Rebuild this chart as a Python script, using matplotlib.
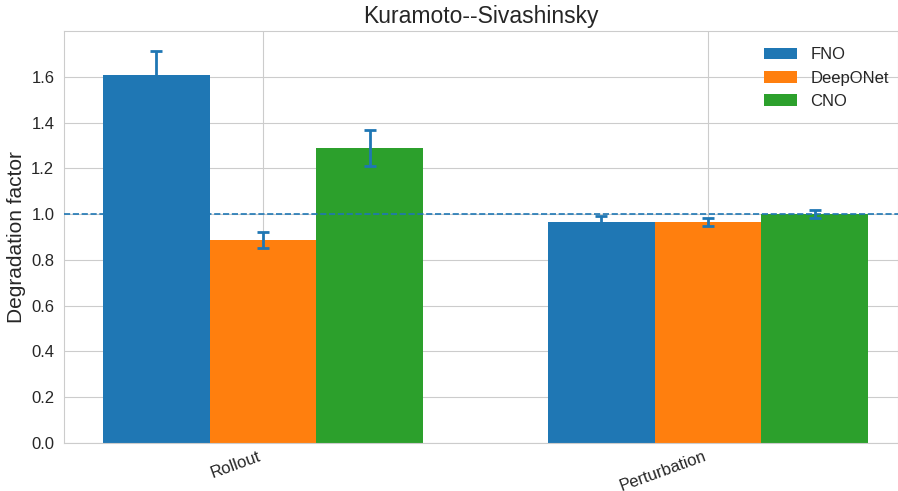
import matplotlib
matplotlib.use("Agg")
import matplotlib.pyplot as plt
import numpy as np
import seaborn as sns

sns.set_style("whitegrid")
plt.rcParams['font.family'] = ['Liberation Sans', 'DejaVu Sans']

tasks = ['Rollout', 'Perturbation']
models = ['FNO', 'DeepONet', 'CNO']
fno = [1.609, 0.966]
fno_err = [0.105, 0.026]
deeponet = [0.887, 0.966]
deeponet_err = [0.037, 0.017]
cno = [1.290, 1.000]
cno_err = [0.078, 0.016]

values = [fno, deeponet, cno]
errors = [fno_err, deeponet_err, cno_err]
colors = ['#1f77b4', '#ff7f0e', '#2ca02c']

fig = plt.figure(figsize=(8.98, 4.91), dpi=100)
ax = fig.add_axes([64 / 898, 48 / 491, 834 / 898, 412 / 491])

x = np.arange(len(tasks))
w = 0.24
for i, (m, v, e) in enumerate(zip(models, values, errors)):
    ax.bar(x + (i - 1) * w, v, w, color=colors[i], label=m, linewidth=0, zorder=2)
    ax.errorbar(x + (i - 1) * w, v, yerr=e, fmt='none', ecolor='#1f77b4',
                elinewidth=2, capsize=4, capthick=2, zorder=3)

ax.axhline(1.0, color='#1f77b4', linestyle='--', linewidth=1.2, zorder=4)

ax.set_xlim(-0.447, 1.427)
ax.set_ylim(0, 1.8)
ax.set_yticks(np.arange(0, 1.7, 0.2))
ax.set_xticks(x)
ax.set_xticklabels(tasks, rotation=20, ha='right', fontsize=12)
ax.tick_params(axis='x', pad=0.5)
ax.tick_params(axis='y', labelsize=12)
ax.set_ylabel('Degradation factor', fontsize=15)
ax.set_title('Kuramoto--Sivashinsky', fontsize=16.5)
ax.legend(loc='upper right', bbox_to_anchor=(1.0, 0.983), fontsize=12,
          frameon=False, borderaxespad=0.15)

fig.savefig('out.png', dpi=100)
